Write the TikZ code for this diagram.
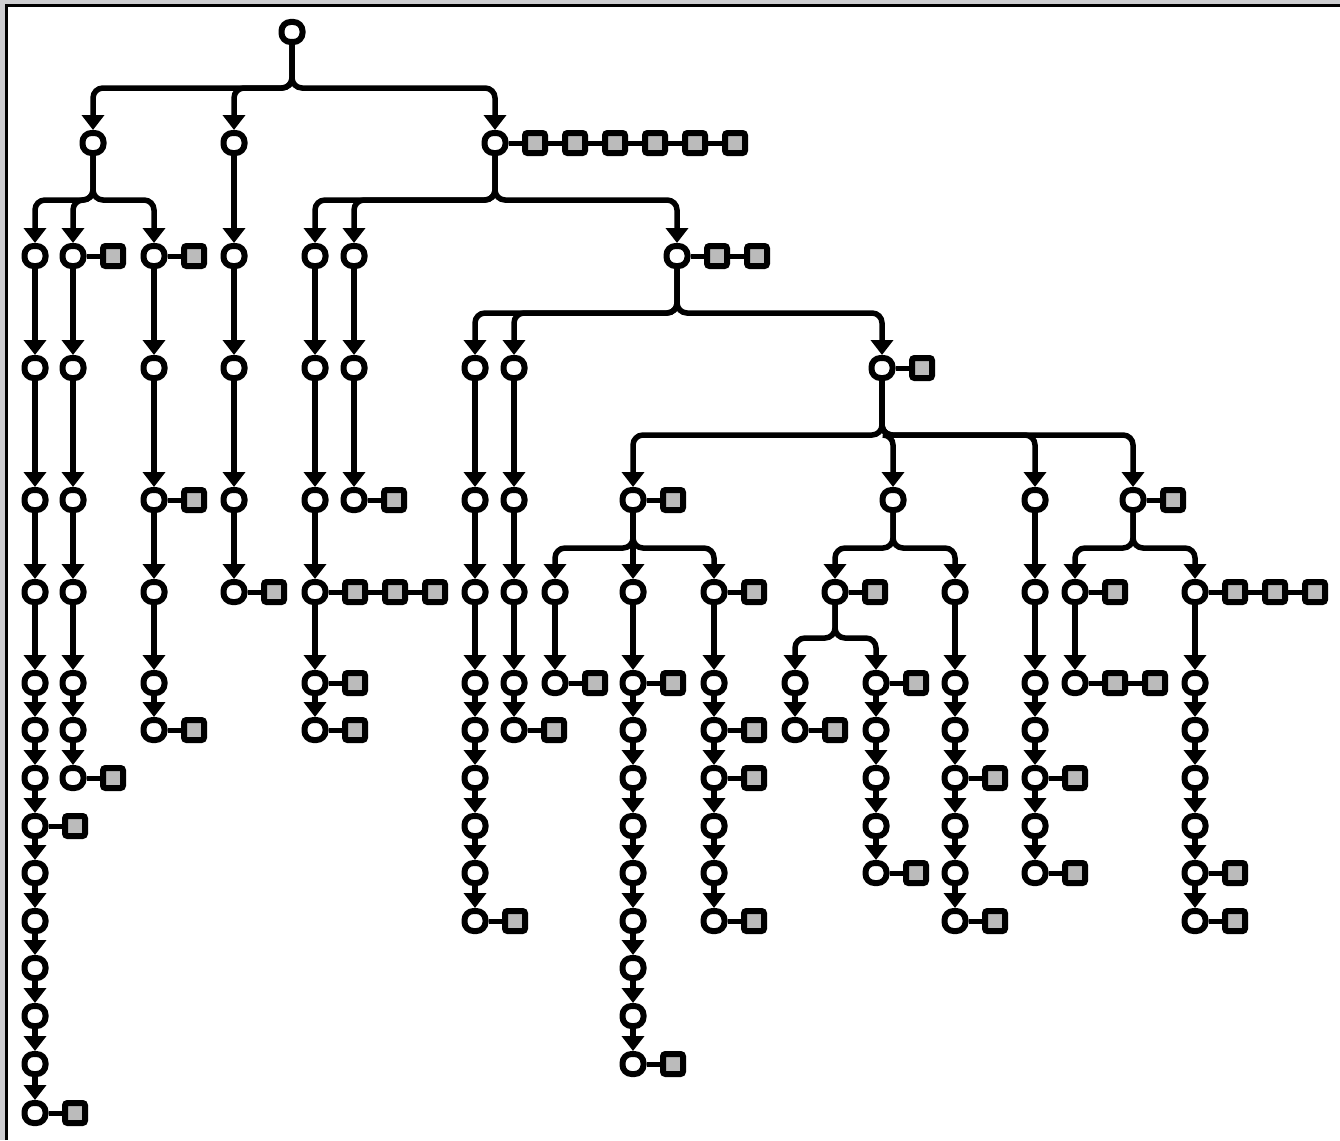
\documentclass[tikz,border=0pt]{standalone}
\usetikzlibrary{arrows.meta,calc}
\definecolor{sqgray}{RGB}{187,187,187}
\definecolor{framegray}{RGB}{205,205,208}
\newcommand\rowsarr{{0,0,256,368,500,592,683,730,778,826,873,921,968,1016,1064,1113}}
\tikzset{
  nd/.style={draw, rectangle, rounded corners=9pt, line width=6pt, fill=white,
    minimum width=21pt, minimum height=20pt, inner sep=0pt},
  sqn/.style={draw, rectangle, rounded corners=2.5pt, line width=6pt, fill=sqgray,
    minimum size=20pt, inner sep=0pt},
  conn/.style={line width=5.5pt, rounded corners=10pt, -{Triangle[width=22pt,length=15pt]}},
  att/.style={line width=5pt},
}
% column of nodes #1 prefix, #2 x, rows #3..#4, with arrows
\newcommand\mkcol[4]{%
  \foreach \ri in {#3,...,#4}{%
    \pgfmathsetmacro\yy{\rowsarr[\ri]}%
    \node[nd] (#1\ri) at (#2,\yy) {};%
    \ifnum\ri>#3\relax
      \pgfmathtruncatemacro\rp{\ri-1}%
      \draw[conn] (#1\rp) -- (#1\ri);%
    \fi
  }%
}
% squares attached to node #1, count #2
\newcommand\mksq[2]{%
  \foreach \kk in {1,...,#2}{%
    \pgfmathtruncatemacro\kp{\kk-1}%
    \node[sqn] (#1s\kk) at ($(#1)+(40*\kk,0)$) {};%
    \ifnum\kk=1\relax
      \draw[att] (#1) -- (#1s1);%
    \else
      \draw[att] (#1s\kp) -- (#1s\kk);%
    \fi
  }%
}
% branch from parent #1 to child #2 via horizontal at y=#3
\newcommand\br[3]{%
  \coordinate (y#1) at (0,#3);%
  \draw[conn] (#1.south) -- (#1.south |- y#1) -- (#2.north |- y#1) -- (#2.north);%
}
\begin{document}
\begin{tikzpicture}[x=1pt,y=-1pt]
\useasboundingbox (0,0) rectangle (1340,1140);
\fill[framegray] (0,0) rectangle (1340,5);
\fill[framegray] (0,0) rectangle (6,1140);
\draw[line width=2.5pt] (6.5,1140) -- (6.5,5.5) -- (1340,5.5);

% top levels
\node[nd] (rt) at (292,32) {};
\node[nd] (la) at (93,143) {};
\node[nd] (lb) at (234,143) {};
\node[nd] (lc) at (495,143) {};
\mksq{lc}{6}

% left subtree
\mkcol{a}{35}{2}{15} \mksq{a9}{1} \mksq{a15}{1}
\mkcol{b}{73}{2}{8} \mksq{b2}{1} \mksq{b8}{1}
\mkcol{c}{154}{2}{7} \mksq{c2}{1} \mksq{c4}{1} \mksq{c7}{1}
\mkcol{d}{234}{2}{5} \mksq{d5}{1}
\draw[conn] (lb) -- (d2);

% right subtree
\mkcol{e}{315}{2}{7} \mksq{e5}{3} \mksq{e6}{1} \mksq{e7}{1}
\mkcol{f}{354}{2}{4} \mksq{f4}{1}
\node[nd] (gp) at (677,256) {}; \mksq{gp}{2}
\mkcol{g}{475}{3}{11} \mksq{g11}{1}
\mkcol{h}{514}{3}{7} \mksq{h7}{1}
\node[nd] (mp) at (882,368) {}; \mksq{mp}{1}
\node[nd] (jp) at (633,500) {}; \mksq{jp}{1}
\node[nd] (tp) at (893,500) {};
\mkcol{o}{1035}{4}{10} \mksq{o8}{1} \mksq{o10}{1}
\node[nd] (up) at (1133,500) {}; \mksq{up}{1}
\mkcol{i}{555}{5}{6} \mksq{i6}{1}
\mkcol{j}{633}{5}{14} \mksq{j6}{1} \mksq{j14}{1}
\draw[conn] (jp) -- (j5);
\mkcol{k}{714}{5}{11} \mksq{k5}{1} \mksq{k7}{1} \mksq{k8}{1} \mksq{k11}{1}
\node[nd] (lp) at (835,592) {}; \mksq{lp}{1}
\mkcol{l}{795}{6}{7} \mksq{l7}{1}
\mkcol{m}{876}{6}{10} \mksq{m6}{1} \mksq{m10}{1}
\mkcol{n}{955}{5}{11} \mksq{n8}{1} \mksq{n11}{1}
\mkcol{p}{1075}{5}{6} \mksq{p5}{1} \mksq{p6}{2}
\mkcol{q}{1195}{5}{11} \mksq{q5}{3} \mksq{q10}{1} \mksq{q11}{1}

% branches
\br{rt}{la}{88} \br{rt}{lb}{88} \br{rt}{lc}{88}
\br{la}{a2}{200} \br{la}{b2}{200} \br{la}{c2}{200}
\br{lc}{e2}{200} \br{lc}{f2}{200} \br{lc}{gp}{200}
\br{gp}{g3}{313} \br{gp}{h3}{313} \br{gp}{mp}{313}
\br{mp}{jp}{435} \br{mp}{tp}{435} \br{mp}{o4}{435} \br{mp}{up}{435}
\br{jp}{i5}{548} \br{jp}{k5}{548}
\br{tp}{lp}{548} \br{tp}{n5}{548}
\br{lp}{l6}{638} \br{lp}{m6}{638}
\br{up}{p5}{548} \br{up}{q5}{548}
\end{tikzpicture}
\end{document}
